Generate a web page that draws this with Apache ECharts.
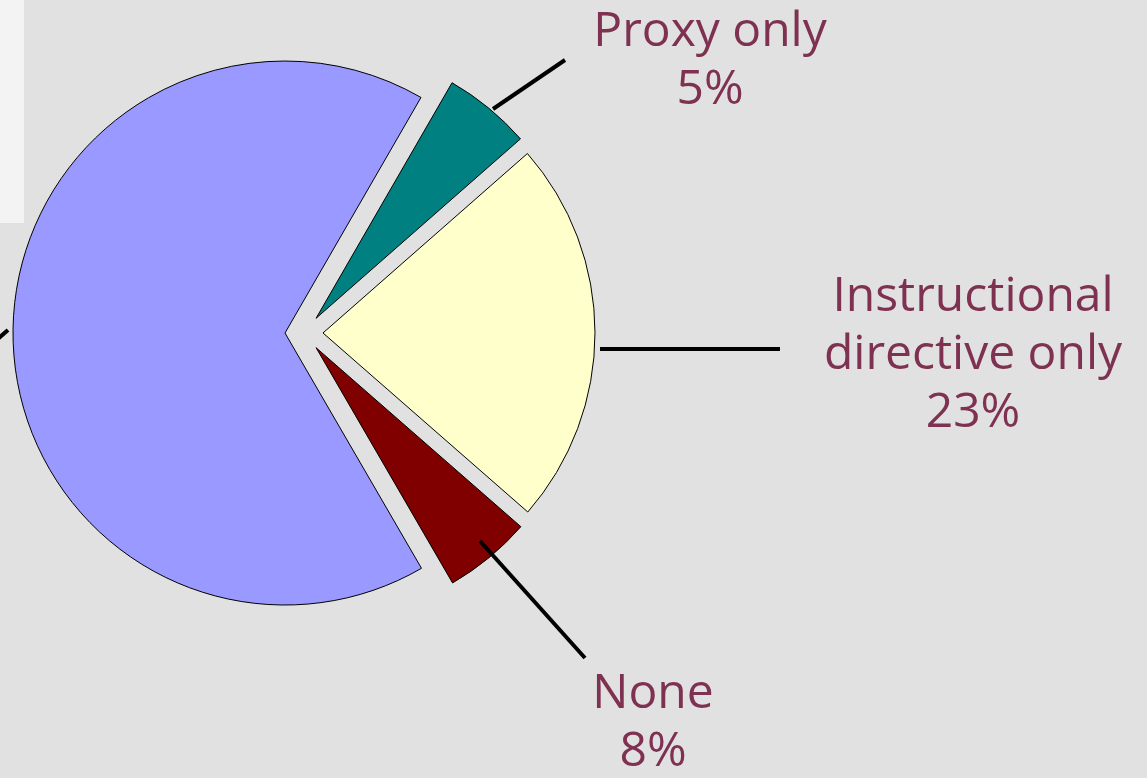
<!DOCTYPE html>
<html>
<head>
<meta charset="utf-8">
<script src="https://cdn.jsdelivr.net/npm/echarts@6/dist/echarts.min.js"></script>
<style>
  html, body { margin: 0; padding: 0; background: #e1e1e1; }
  #chart { width: 1147px; height: 778px; }
</style>
</head>
<body>
<div id="chart"></div>
<script>
// slices in drawing order, clockwise from the top-right
const categories = ['Proxy only', 'Instructional\ndirective only', 'None', ''];
// share of the circle each slice takes in the picture
const sliceValues = [5.2, 22.9, 5.2, 66.7];
// percentages printed next to the slices
const printedPct = ['5%', '23%', '8%', ''];
const sliceColors = ['#008080', '#ffffcc', '#800000', '#9999ff'];

// label centres and leader lines (slide layout, not data)
const labelSpots = [[710, 61], [973, 355], [653, 723], null];
const leaderLines = [
  [[493, 109], [565, 60]],
  [[600, 349], [780, 349]],
  [[480, 541], [585, 658]],
  [[8, 330], [-40, 372]]
];

const chart = echarts.init(document.getElementById('chart'));

const graphics = [
  {
    type: 'rect',
    shape: { x: 0, y: 0, width: 24, height: 223 },
    style: { fill: '#f3f3f3' },
    z: -1
  }
];

leaderLines.forEach(pts => {
  graphics.push({
    type: 'polyline',
    shape: { points: pts },
    style: { stroke: '#000', lineWidth: 4, fill: null },
    z: 10
  });
});

labelSpots.forEach((spot, i) => {
  if (!spot) return;
  graphics.push({
    type: 'text',
    x: spot[0],
    y: spot[1],
    style: {
      text: categories[i] + '\n' + printedPct[i],
      fill: '#7e3151',
      fontFamily: 'Open Sans',
      fontSize: 48,
      lineHeight: 58,
      align: 'center',
      verticalAlign: 'middle'
    },
    z: 10
  });
});

const option = {
  backgroundColor: '#e1e1e1',
  animation: false,
  graphic: graphics,
  series: [
    {
      type: 'pie',
      center: [304, 333],
      radius: 272,
      startAngle: 60,
      clockwise: true,
      selectedMode: 'multiple',
      selectedOffset: 19,
      avoidLabelOverlap: false,
      itemStyle: { borderColor: '#000', borderWidth: 1 },
      select: { itemStyle: { borderColor: '#000', borderWidth: 1 } },
      emphasis: { disabled: true },
      label: { show: false },
      labelLine: { show: false },
      data: sliceValues.map((v, i) => ({
        value: v,
        name: categories[i] || 'Other',
        selected: true,
        itemStyle: { color: sliceColors[i] }
      }))
    }
  ]
};

chart.setOption(option);
</script>
</body>
</html>
